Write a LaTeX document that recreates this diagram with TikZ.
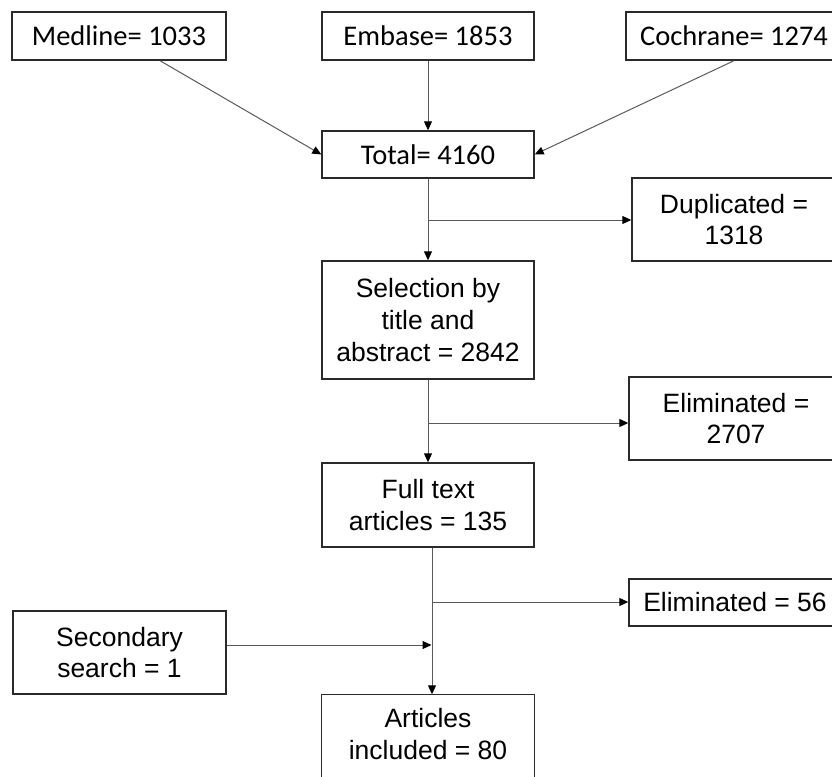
\documentclass[tikz,border=0pt]{standalone}
\usepackage{fontspec}
\setmainfont{Liberation Sans}
\newfontfamily\calib{Carlito}
\usetikzlibrary{arrows.meta,calc}
\definecolor{boxline}{HTML}{2A2A2A}
\definecolor{conn}{HTML}{5A5A5A}
\tikzset{
  box/.style={draw=boxline, line width=1.4pt, rectangle, inner sep=0pt, align=center,
    font=\fontsize{26.5}{31.8}\selectfont, text=black},
  cbox/.style={box, font=\calib\fontsize{28.5}{34}\selectfont},
  arr/.style={draw=conn, line width=1pt, -{Triangle[length=9pt,width=8pt,color=black]}},
  ln/.style={draw=conn, line width=1pt}
}
\begin{document}
\begin{tikzpicture}[x=1pt,y=-1pt]
\clip (0,0) rectangle (832,776);
\fill[white] (0,0) rectangle (832,776);
% top row
\node[cbox, minimum width=214pt, minimum height=48pt] (med) at (119,36) {Medline= 1033};
\node[cbox, minimum width=212pt, minimum height=48pt] (emb) at (428,36) {Embase= 1853};
\node[cbox, minimum width=216pt, minimum height=48pt] (coc) at (734,36) {Cochrane= 1274};
\node[cbox, minimum width=212pt, minimum height=47pt] (tot) at (428,154.5) {Total= 4160};
% main column
\node[box, minimum width=212pt, minimum height=118pt] (sel) at (428,320) {Selection by\\title and\\abstract = 2842};
\node[box, minimum width=212pt, minimum height=84pt] (full) at (428,505) {Full text\\articles = 135};
\node[box, draw=none, minimum width=212pt, minimum height=78pt] (art) at (428,734) {Articles\\included = 80};
\draw[draw=boxline, line width=1.4pt] ($(art.south west)+(0,20)$) -- (art.north west) -- (art.north east) -- ($(art.south east)+(0,20)$);
% right column
\node[box, minimum width=204pt, minimum height=83pt] (dup) at (734,219.5) {Duplicated =\\1318};
\node[box, minimum width=214pt, minimum height=83pt] (el1) at (736,418.5) {Eliminated =\\2707};
\node[box, minimum width=212pt, minimum height=47pt] (el2) at (735,602.5) {Eliminated = 56};
% left
\node[box, minimum width=213pt, minimum height=83pt] (sec) at (119.5,652.5) {Secondary\\search = 1};
% connectors
\draw[arr] ($(med.south)+(41,0)$) -- (tot.west);
\draw[arr] (emb.south) -- (tot.north);
\draw[arr] (coc.south) -- (tot.east);
\coordinate (j1) at (428,220);
\draw[arr] (tot.south) -- (sel.north);
\draw[arr] (j1) -- (j1 -| dup.west);
\coordinate (j2) at (428,423);
\draw[arr] (sel.south) -- (full.north);
\draw[arr] (j2) -- (j2 -| el1.west);
\coordinate (f1) at ($(full.south)+(4,0)$);
\draw[arr] (f1) -- (f1 |- art.north);
\coordinate (j3) at (432,602);
\draw[arr] (j3) -- (j3 -| el2.west);
\coordinate (j4) at (431.5,645);
\draw[arr] (sec.east |- j4) -- (j4);
\end{tikzpicture}
\end{document}
